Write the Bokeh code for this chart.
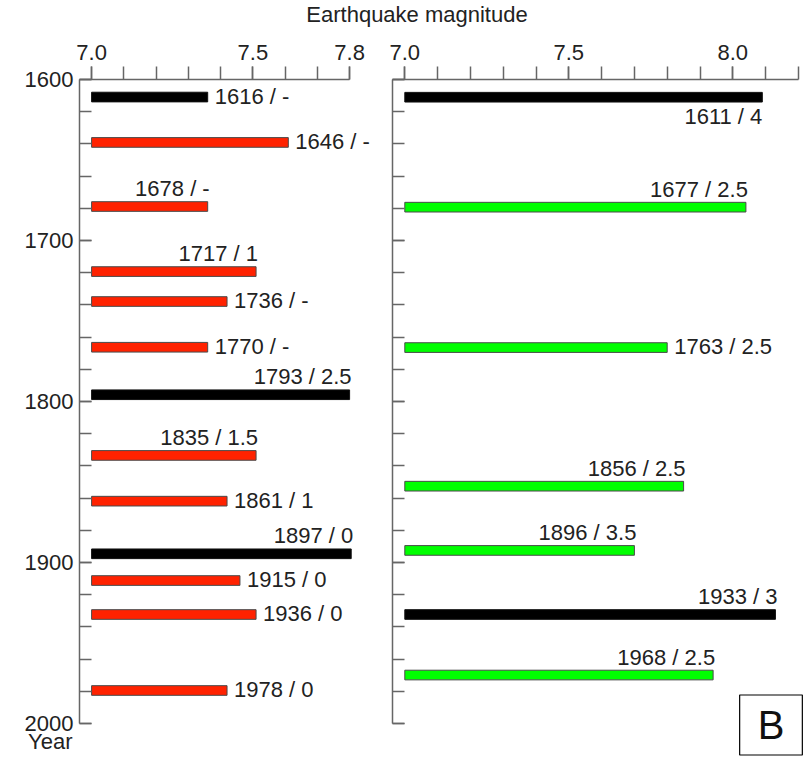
from bokeh.plotting import figure
from bokeh.models import (ColumnDataSource, FixedTicker, LabelSet, Label, Range1d,
                          LinearAxis, CustomJSTickFormatter, NumeralTickFormatter)
from bokeh.core.properties import value
from bokeh.embed import file_html
from bokeh.resources import INLINE

FONT = "Liberation Sans"
TXT = "#222222"
AXIS = "#666666"

# ---------------- data ----------------
# left panel
left_years = ["1616", "1646", "1678", "1717", "1736", "1770", "1793",
              "1835", "1861", "1897", "1915", "1936", "1978"]
left_scores = ["-", "-", "-", "1", "-", "-", "2.5", "1.5", "1", "0", "0", "0", "0"]
left_pos = [1610.9, 1639.1, 1678.9, 1719.3, 1737.9, 1766.3, 1795.8,
            1833.5, 1861.9, 1894.6, 1911.2, 1932.3, 1979.5]
left_mag = [7.36, 7.61, 7.36, 7.51, 7.42, 7.36, 7.80,
            7.51, 7.42, 7.805, 7.46, 7.51, 7.42]
left_kind = ["black", "red", "red", "red", "red", "red", "black",
             "red", "red", "black", "red", "red", "red"]
left_place = ["right", "right", "above", "above", "right", "right", "above",
              "above", "right", "above", "right", "right", "right"]

# right panel
right_years = ["1611", "1677", "1763", "1856", "1896", "1933", "1968"]
right_scores = ["4", "2.5", "2.5", "2.5", "3.5", "3", "2.5"]
right_pos = [1611.0, 1679.3, 1766.5, 1852.6, 1892.5, 1932.3, 1969.9]
right_mag = [8.09, 8.04, 7.80, 7.85, 7.70, 8.13, 7.94]
right_kind = ["black", "green", "green", "green", "green", "black", "green"]
right_place = ["below", "above", "right", "above", "above", "above", "above"]

# axes
year_ticks = [1600, 1700, 1800, 1900, 2000]
year_minor = list(range(1600, 2001, 20))
left_mag_ticks = [7.0, 7.5, 7.8]
left_mag_labels = ["7.0", "7.5", "7.8"]
left_mag_minor = [7.0, 7.1, 7.2, 7.3, 7.4, 7.5, 7.6, 7.7, 7.8]
right_mag_ticks = [7.0, 7.5, 8.0]
right_mag_labels = ["7.0", "7.5", "8.0"]
right_mag_minor = [7.0, 7.1, 7.2, 7.3, 7.4, 7.5, 7.6, 7.7, 7.8, 7.9, 8.0, 8.1, 8.2]

x_title = "Earthquake magnitude"
y_title = "Year"
panel_tag = "B"

BAR_BASE = 7.0
X_START = 6.9625          # axis origin (a little left of 7.0)
LEFT_END, RIGHT_END = 7.8, 8.2
Y_TOP, Y_BOT = 1600, 2000

# ---------------- layout (pixels) ----------------
W, H = 807, 762
PX_L0, PX_R0, PY0 = 79, 392, 79     # where X_START / 1600 sit on the canvas
SX_L, SX_R, SY = 322.5, 328.0, 1.61  # pixels per magnitude unit / per year


def px_x(px):
    return X_START + (px - PX_L0) / SX_L


def px_xr(px):
    return X_START + (px - PX_R0) / SX_R


def px_y(py):
    return Y_TOP + (py - PY0) / SY


FILL = {"black": "#000000", "red": "#FF2200", "green": "#00FF00"}
LINE = {"black": "#111111", "red": "#4a4a4a", "green": "#4a4a4a"}
PLACE = {  # align, x_offset, y_offset (screen px, up positive)
    "right": ("left", 7, 1),
    "above": ("right", 2, 18),
    "below": ("right", 0, -19),
}


def build_source(years, scores, pos, mag, kind, place):
    return ColumnDataSource(dict(
        pos=pos, mag=mag,
        fill=[FILL[k] for k in kind],
        line=[LINE[k] for k in kind],
        label=[f"{y} / {s}" for y, s in zip(years, scores)],
        align=[PLACE[p][0] for p in place],
        xo=[PLACE[p][1] for p in place],
        yo=[PLACE[p][2] for p in place],
    ))


p = figure(width=W, height=H,
           x_range=Range1d(px_x(0), px_x(W)),
           y_range=Range1d(px_y(H), px_y(0)),
           x_axis_location=None, y_axis_location=None, title=None,
           min_border_left=0, min_border_right=0, min_border_top=0, min_border_bottom=0,
           output_backend="svg", toolbar_location=None)
p.extra_x_ranges = {"r": Range1d(px_xr(0), px_xr(W))}
p.outline_line_color = None
p.grid.visible = False
p.background_fill_color = "white"
p.border_fill_color = "white"


def style_axis(ax, labels_on=True):
    ax.axis_line_color = AXIS
    ax.axis_line_width = 1.5
    ax.major_tick_line_color = AXIS
    ax.major_tick_line_width = 1.5
    ax.minor_tick_line_color = AXIS
    ax.minor_tick_line_width = 1.5
    ax.major_label_text_font = FONT
    ax.major_label_text_color = TXT
    ax.major_label_text_font_size = "22px" if labels_on else "0px"


def mag_axis(range_name, ticks, labels, minor, end):
    kw = {} if range_name is None else {"x_range_name": range_name}
    ax = LinearAxis(fixed_location=Y_TOP, bounds=(X_START, end),
                    ticker=FixedTicker(ticks=ticks, minor_ticks=minor),
                    formatter=NumeralTickFormatter(format="0.0"), **kw)
    ax.major_label_overrides = dict(zip(ticks, labels))
    ax.major_tick_out = 13
    ax.major_tick_in = 0
    ax.minor_tick_out = 13
    ax.minor_tick_in = 0
    ax.major_label_standoff = 7
    style_axis(ax)
    p.add_layout(ax, "above")


def year_axis(range_name, labels_on):
    kw = {} if range_name is None else {"x_range_name": range_name}
    ax = LinearAxis(fixed_location=X_START, bounds=(Y_TOP, Y_BOT),
                    ticker=FixedTicker(ticks=year_ticks, minor_ticks=year_minor), **kw)
    ax.major_tick_in = 12
    ax.major_tick_out = 0
    ax.minor_tick_in = 12
    ax.minor_tick_out = 0
    if labels_on:
        ax.major_label_standoff = 6
    else:
        ax.formatter = CustomJSTickFormatter(code="return ''")
        ax.major_label_standoff = 0
    style_axis(ax, labels_on)
    p.add_layout(ax, "left")


mag_axis(None, left_mag_ticks, left_mag_labels, left_mag_minor, LEFT_END)
mag_axis("r", right_mag_ticks, right_mag_labels, right_mag_minor, RIGHT_END)
year_axis(None, True)
year_axis("r", False)

left_src = build_source(left_years, left_scores, left_pos, left_mag, left_kind, left_place)
right_src = build_source(right_years, right_scores, right_pos, right_mag, right_kind, right_place)

for src, rn in ((left_src, "default"), (right_src, "r")):
    p.hbar(y="pos", left=BAR_BASE, right="mag", height=6, source=src, x_range_name=rn,
           fill_color="fill", line_color="line", line_width=1)
    p.add_layout(LabelSet(x="mag", y="pos", text="label", source=src, x_range_name=rn,
                          text_align="align", text_baseline=value("middle"),
                          x_offset="xo", y_offset="yo",
                          text_font=value(FONT), text_font_size=value("22px"),
                          text_color=value(TXT)))

p.add_layout(Label(x=px_x(416.5), y=px_y(13.5), text=x_title, text_align="center",
                   text_baseline="middle", text_font=FONT, text_font_size="22px",
                   text_color=TXT))
p.add_layout(Label(x=px_x(72), y=px_y(741), text=y_title, text_align="right",
                   text_baseline="middle", text_font=FONT, text_font_size="22px",
                   text_color=TXT))
p.add_layout(Label(x=px_xr(770.5), y=px_y(724.5), x_range_name="r", text=panel_tag,
                   text_align="center", text_baseline="middle",
                   text_font=FONT, text_font_size="40px", text_color="#111111",
                   border_line_color="black", border_line_width=1.2,
                   background_fill_color="white",
                   padding=dict(left=18, right=18, top=8, bottom=8)))

open("out.html", "w").write(file_html(p, INLINE))
